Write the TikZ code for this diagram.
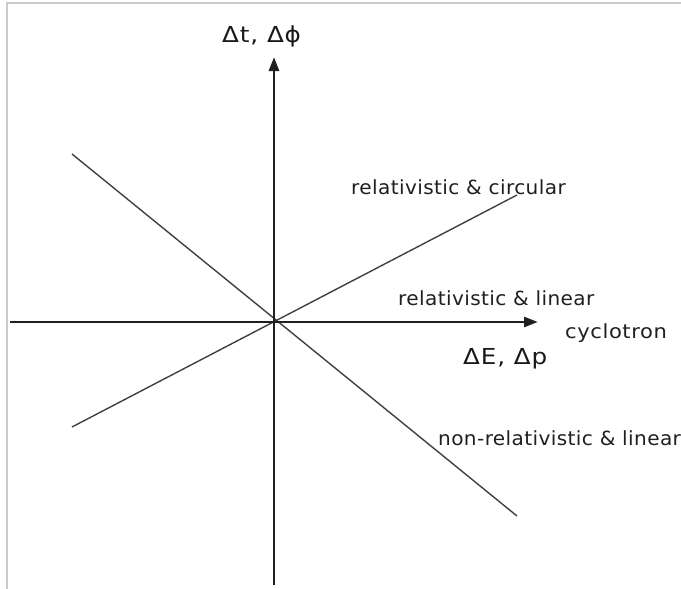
\documentclass[tikz,border=0pt]{standalone}
\usepackage{fontspec}
\setmainfont{DejaVu Sans}
\newfontfamily\lblfont[LetterSpace=2,FakeStretch=1.03]{DejaVu Sans}
\newfontfamily\cycfont[LetterSpace=3,FakeStretch=1.08]{DejaVu Sans}
\newfontfamily\axfont[LetterSpace=4,FakeStretch=1.12]{DejaVu Sans}
\usetikzlibrary{arrows.meta}
\begin{document}
\begin{tikzpicture}[x=1pt,y=-1pt,
  axis/.style={line width=2.8pt, black!88, -{Triangle[length=14pt,width=10pt]}},
  diag/.style={line width=1.4pt, black!75},
  lbl/.style={font=\lblfont\fontsize{19.5}{22}\selectfont, text=black!88, inner sep=0pt, anchor=base west},
  axlbl/.style={font=\axfont\fontsize{22}{26}\selectfont, text=black!90, inner sep=0pt, anchor=base west},
  frame/.style={line width=1.2pt, black!20}]
\useasboundingbox (0,0) rectangle (681,589);
\draw[frame] (7,589) -- (7,3) -- (681,3);
\coordinate (O) at (274,322);
\coordinate (xl) at (10,322);
\coordinate (xr) at (538,322);
\coordinate (yb) at (274,585);
\coordinate (yt) at (274,57);
\coordinate (a1) at (72,154);
\coordinate (a2) at (517,516);
\coordinate (b1) at (72,427);
\coordinate (b2) at (517,195);
\draw[diag] (a1) -- (a2);
\draw[diag] (b1) -- (b2);
\draw[axis] (xl) -- (xr);
\draw[axis] (yb) -- (yt);
\node[axlbl] (ylab) at (222,42) {Δt, Δϕ};
\node[axlbl] (xlab) at (463,364) {ΔE, Δp};
\node[lbl, font=\cycfont\fontsize{19.5}{22}\selectfont] (cyc) at (565,338) {cyclotron};
\node[lbl] (rl) at (398,305) {relativistic \& linear};
\node[lbl] (rc) at (351,194) {relativistic \& circular};
\node[lbl] (nrl) at (438,445) {non-relativistic \& linear};
\end{tikzpicture}
\end{document}
